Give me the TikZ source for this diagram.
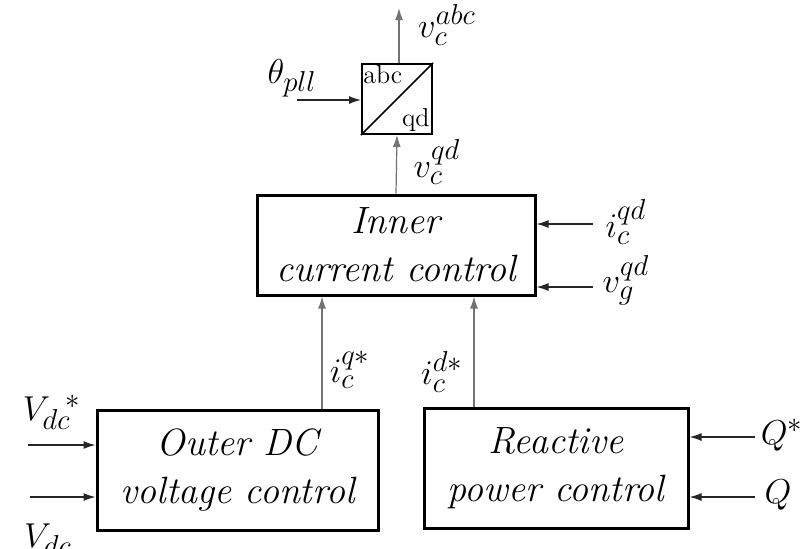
\documentclass[tikz,border=0pt]{standalone}
\usepackage{amsmath, amssymb}
\usepackage{tikz}
\usetikzlibrary{arrows.meta}

\begin{document}
\begin{tikzpicture}[
    x=0.5pt, y=-0.5pt,
    block/.style={rectangle, draw=black, line width=1.5pt, inner sep=0pt, align=center, font=\fontsize{19}{24}\selectfont\itshape},
    conv/.style={rectangle, draw=black, line width=1pt, inner sep=0pt, minimum size=35pt},
    lbl/.style={inner sep=0pt, font=\fontsize{19}{24}\selectfont},
    arrow/.style={-{Latex[length=6pt, width=4pt]}, line width=0.6pt, color=black!85},
    uparrow/.style={-{Latex[length=6pt, width=4pt]}, line width=0.6pt, color=gray!90!black}
]
\useasboundingbox (0,0) rectangle (806,548);

% abc/qd transformation
\node[conv] (tr) at (397, 99) {};
\draw[line width=0.8pt] (tr.south west) -- (tr.north east);
\node[inner sep=1pt, anchor=north west, font=\fontsize{13}{15}\selectfont] (trabc) at (tr.north west) {abc};
\node[inner sep=1.5pt, anchor=south east, font=\fontsize{13}{15}\selectfont] (trqd) at (tr.south east) {qd};
\coordinate (vout) at (399, 8);
\draw[uparrow] (tr.north -| vout) -- (vout);
\node[lbl] (vabc) at (447, 25) {$v_c^{abc}$};
\coordinate (thin) at (297, 100);
\node[lbl] (theta) at (292, 78) {$\theta_{pll}$};
\draw[arrow] (thin) -- (tr.west |- thin);

% inner loop
\node[block, minimum width=139pt, minimum height=50pt] (inner) at (396, 245) {Inner\\current control};
\draw[uparrow] (inner.north) -- (tr.south);
\node[lbl] (vqd) at (437, 162) {$v_c^{qd}$};

\coordinate (icin) at (593, 224);
\coordinate (vgin) at (593, 287);
\draw[arrow] (icin) -- (inner.east |- icin);
\draw[arrow] (vgin) -- (inner.east |- vgin);
\node[lbl] (icqd) at (626, 222) {$i_c^{qd}$};
\node[lbl] (vgqd) at (626, 280) {$v_g^{qd}$};

% outer loops
\node[block, minimum width=140.5pt, minimum height=60pt] (outer) at (237.5, 470) {Outer DC\\voltage control};
\node[block, minimum width=132pt, minimum height=60pt] (react) at (556, 468) {Reactive\\power control};

\coordinate (iq) at (322, 0);
\coordinate (id) at (474, 0);
\draw[uparrow] (outer.north -| iq) -- (inner.south -| iq);
\draw[uparrow] (react.north -| id) -- (inner.south -| id);
\node[lbl] (iqref) at (350, 370) {$i_c^{q*}$};
\node[lbl] (idref) at (442, 372) {$i_c^{d*}$};

\coordinate (vdcrefin) at (28, 445);
\coordinate (vdcin) at (30, 497);
\draw[arrow] (vdcrefin) -- (outer.west |- vdcrefin);
\draw[arrow] (vdcin) -- (outer.west |- vdcin);
\node[lbl] (vdcref) at (52, 412) {${V_{dc}}^{\!*}$};
\node[lbl] (vdc) at (48, 540) {$V_{dc}$};

\coordinate (qrefin) at (755, 437);
\coordinate (qin) at (755, 497);
\draw[arrow] (qrefin) -- (react.east |- qrefin);
\draw[arrow] (qin) -- (react.east |- qin);
\node[lbl] (qref) at (782, 435) {$Q^{*}$};
\node[lbl] (qmeas) at (778, 495) {$Q$};

\end{tikzpicture}
\end{document}
